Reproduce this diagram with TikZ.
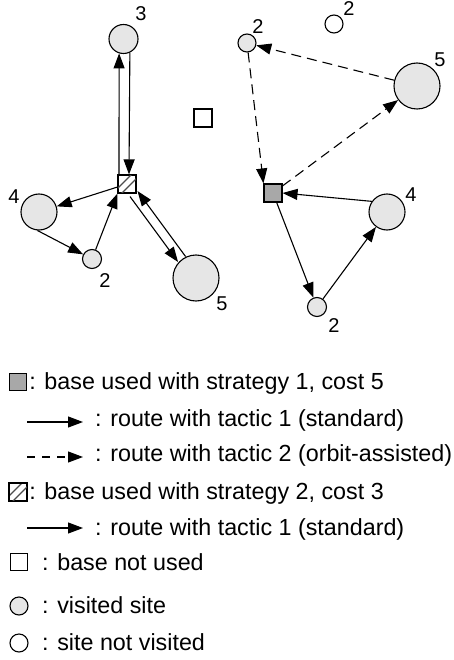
\documentclass[tikz,border=0pt]{standalone}
\usepackage{fontspec}
\setmainfont{Liberation Sans}
\usetikzlibrary{arrows.meta,calc}
\definecolor{sitefill}{RGB}{230,230,230}
\definecolor{basefill}{RGB}{168,168,168}
\newcommand{\hatchit}[1]{%
  \begin{scope}
    \clip (#1.south west) rectangle (#1.north east);
    \draw[line width=1.3pt,black!70] ($(#1.south west)+(-5,0)$) -- ($(#1.north east)+(-5,0)$);
    \draw[line width=1.3pt,black!70] ($(#1.south west)+(4,0)$) -- ($(#1.north east)+(4,0)$);
  \end{scope}
  \draw[line width=1.1pt] (#1.south west) rectangle (#1.north east);}
\begin{document}
\begin{tikzpicture}[x=1pt,y=-1pt,
  site/.style={circle,draw,line width=1.1pt,fill=sitefill,inner sep=0pt},
  nsite/.style={circle,draw,line width=1.1pt,fill=white,inner sep=0pt,minimum size=18pt},
  basesq/.style={rectangle,draw,line width=1.1pt,inner sep=0pt,minimum size=18pt},
  route/.style={line width=1.1pt,-{Triangle[length=15pt,width=11pt]}},
  oroute/.style={route,dash pattern=on 10pt off 6pt},
  lbl/.style={font=\fontsize{20}{24}\selectfont,inner sep=0pt},
  leg/.style={anchor=base west,font=\fontsize{23.3}{27}\selectfont,inner sep=0pt}]
\useasboundingbox (0,0) rectangle (453,660);
% left cluster
\node[basesq] (hb) at (127,184) {};
\node[basesq] (ub) at (203,118) {};
\node[site,minimum size=29pt] (l3) at (123.5,39) {};
\node[site,minimum size=36pt] (l4) at (39,212) {};
\node[site,minimum size=19pt] (l2) at (92,259) {};
\node[site,minimum size=46pt] (l5) at (196,278) {};
\hatchit{hb}
\node[lbl] (t3) at (141,14) {3};
\node[lbl] (t4) at (14,197) {4};
\node[lbl] (t2) at (105,281) {2};
\node[lbl] (t5) at (222,304) {5};
\draw[route] ([xshift=-8pt]hb.north) -- (l3.253);
\draw[route] (l3.295) -- ([xshift=2pt]hb.north);
\draw[route] (hb) -- (l4);
\draw[route] (l4.265) -- (l2);
\draw[route] (l2) -- (hb.south west);
\draw[route,transform canvas={shift={(-4pt,-3pt)}}] (hb) -- (l5);
\draw[route,transform canvas={shift={(3.5pt,2.5pt)}}] (l5) -- (hb);
% right cluster
\node[basesq,fill=basefill] (gb) at (273,193) {};
\node[site,minimum size=18pt] (r2a) at (247,43) {};
\node[nsite] (r2u) at (334,24) {};
\node[site,minimum size=46pt] (r5) at (417,86) {};
\node[site,minimum size=36pt] (r4) at (387,212) {};
\node[site,minimum size=19pt] (r2b) at (317,307) {};
\node[lbl] (s2a) at (258,27) {2};
\node[lbl] (s2u) at (349,9) {2};
\node[lbl] (s5) at (440,60) {5};
\node[lbl] (s4) at (411,195) {4};
\node[lbl] (s2b) at (334,326) {2};
\draw[oroute] (gb) -- (r5);
\draw[oroute] (r5) -- (r2a);
\draw[oroute] (r2a) -- (gb.north west);
\draw[route] (r4.145) -- (gb.east);
\draw[route] (gb) -- (r2b);
\draw[route] (r2b) -- (r4);
% legend
\node[basesq,fill=basefill,minimum size=17pt] (lg1) at (18,382) {};
\node[leg,anchor=base east] (lt1) at (384,389) {: base used with strategy 1, cost 5};
\coordinate (a1s) at (27,422); \coordinate (a1e) at (83,422);
\draw[route] (a1s) -- (a1e);
\node[leg] (lt2) at (95,426) {: route with tactic 1 (standard)};
\coordinate (a2s) at (27,457); \coordinate (a2e) at (83,457);
\draw[route,dash pattern=on 8pt off 7pt] (a2s) -- (a2e);
\node[leg] (lt3) at (95,461) {: route with tactic 2 (orbit-assisted)};
\node[basesq,minimum size=17pt] (lg4) at (18,492) {};
\hatchit{lg4}
\node[leg,anchor=base east] (lt4) at (384,499) {: base used with strategy 2, cost 3};
\coordinate (a3s) at (27,528); \coordinate (a3e) at (83,528);
\draw[route] (a3s) -- (a3e);
\node[leg] (lt5) at (95,535) {: route with tactic 1 (standard)};
\node[basesq,minimum size=17pt] (lg6) at (19,562) {};
\node[leg] (lt6) at (42,570) {: base not used};
\node[site,minimum size=18pt] (lg7) at (19,606) {};
\node[leg] (lt7) at (42,613) {: visited site};
\node[nsite] (lg8) at (19,643) {};
\node[leg] (lt8) at (42,650) {: site not visited};
\end{tikzpicture}
\end{document}
